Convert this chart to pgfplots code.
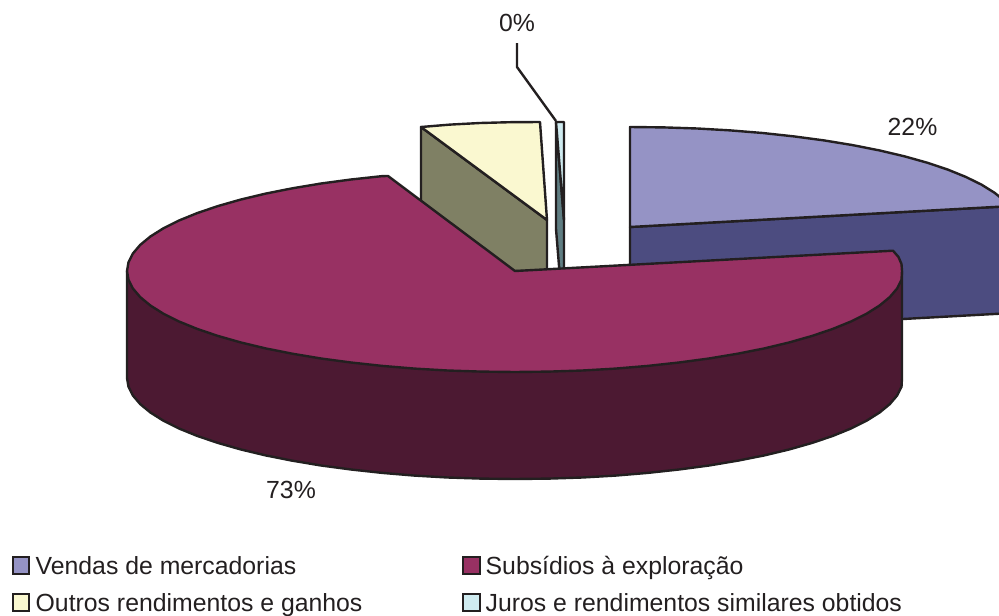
\documentclass[border=0pt]{standalone}
\usepackage{pgfplots}
\pgfplotsset{compat=1.18}
\usepackage{fontspec}
\setmainfont{Liberation Sans}
\definecolor{ink}{HTML}{231F20}
\definecolor{vendasTop}{HTML}{9593C5}
\definecolor{vendasSide}{HTML}{4C4C80}
\definecolor{subsTop}{HTML}{983163}
\definecolor{subsSide}{HTML}{4C1932}
\definecolor{outrosTop}{HTML}{FAF8D0}
\definecolor{outrosSide}{HTML}{7F8064}
\definecolor{jurosTop}{HTML}{CFEBF0}
\definecolor{jurosSide}{HTML}{5F7D82}
\begin{document}
\begin{tikzpicture}[every node/.style={text=ink,font=\fontsize{24.8}{28}\selectfont,inner sep=0pt}]
\begin{axis}[
  hide axis, scale only axis, width=999pt, height=616pt,
  xmin=0, xmax=999, ymin=0, ymax=616, y dir=reverse,
  clip=true,
  slice/.style={draw=ink, line width=2.4pt, line join=round},
]
% Vendas de mercadorias: side wall, then top face
\addplot[slice, fill=vendasSide] coordinates {(630,227)(1005,206.4)(1005,313.4)(630,334)} --cycle;
\addplot[slice, fill=vendasTop] coordinates {
  (630,227)(630,127)(663.8,127.4)(697.4,128.5)(730.4,130.4)(762.7,133)(794,136.4)
  (824,140.4)(852.6,145.1)(879.4,150.4)(904.4,156.3)(927.2,162.7)(947.8,169.6)
  (966,177)(981.6,184.7)(994.6,192.8)(1004.8,201.1)(1005,206.4)} --cycle;
% Outros rendimentos e ganhos
\addplot[slice, fill=outrosSide] coordinates {(421,127)(547,220)(547,327)(421,234)} --cycle;
\addplot[slice, fill=outrosTop] coordinates {(421,127)(450,124.6)(480,123)(510,122.2)(540,122)(547,220)} --cycle;
% Juros e rendimentos similares obtidos
\addplot[slice, fill=jurosSide] coordinates {(556,122)(564,220)(564,327)(556,229)} --cycle;
\addplot[slice, fill=jurosTop] coordinates {(556,122)(564,122)(564,220)} --cycle;
% Subsidios a exploracao: outer wall
\addplot[slice, fill=subsSide] coordinates {
  (127,271)(127,378)
  (128.5,386.8)(132.9,395.5)(140.2,404.1)(150.4,412.5)(163.4,420.7)(179,428.5)
  (197.2,435.9)(217.8,442.9)(240.6,449.4)(265.6,455.4)(292.4,460.7)(321,465.5)
  (351,469.5)(382.3,472.9)(414.6,475.6)(447.6,477.5)(481.2,478.6)(515,479)
  (548.8,478.6)(582.4,477.5)(615.4,475.6)(647.7,472.9)(679,469.5)(709,465.5)
  (737.6,460.7)(764.4,455.4)(789.4,449.4)(812.2,442.9)(832.8,435.9)(851,428.5)
  (866.6,420.7)(879.6,412.5)(889.8,404.1)(897.1,395.5)(901.5,386.8)(902,378)
  (902,271)} --cycle;
% Subsidios a exploracao: top face
\addplot[slice, fill=subsTop] coordinates {
  (515,271)(388,176)(382.3,176.1)(351,179.5)(321,183.5)(292.4,188.3)(265.6,193.6)
  (240.6,199.6)(217.8,206.1)(197.2,213.1)(179,220.5)(163.4,228.3)(150.4,236.5)
  (140.2,244.9)(132.9,253.5)(128.5,262.2)(127,271)
  (128.5,279.8)(132.9,288.5)(140.2,297.1)(150.4,305.5)(163.4,313.7)(179,321.5)
  (197.2,328.9)(217.8,335.9)(240.6,342.4)(265.6,348.4)(292.4,353.7)(321,358.5)
  (351,362.5)(382.3,365.9)(414.6,368.6)(447.6,370.5)(481.2,371.6)(515,372)
  (548.8,371.6)(582.4,370.5)(615.4,368.6)(647.7,365.9)(679,362.5)(709,358.5)
  (737.6,353.7)(764.4,348.4)(789.4,342.4)(812.2,335.9)(832.8,328.9)(851,321.5)
  (866.6,313.7)(879.6,305.5)(889.8,297.1)(897.1,288.5)(901.5,279.8)(902,271)
  (901.5,264)(898.5,257)(893,250.7)} --cycle;
% Leader of the smallest slice
\addplot[draw=ink, line width=2.4pt] coordinates {(517,43)(517,67)(556,121)};
% Legend swatches
\addplot[draw=ink, line width=2.6pt, fill=vendasTop] coordinates {(13,557)(29,557)(29,574)(13,574)} --cycle;
\addplot[draw=ink, line width=2.6pt, fill=subsTop] coordinates {(463,557)(480,557)(480,574)(463,574)} --cycle;
\addplot[draw=ink, line width=2.6pt, fill=outrosTop] coordinates {(13,594)(29,594)(29,611)(13,611)} --cycle;
\addplot[draw=ink, line width=2.6pt, fill=jurosTop] coordinates {(463,594)(480,594)(480,611)(463,611)} --cycle;
% Percentage labels
\node[anchor=base] at (axis cs:517,31) {0\%};
\node[anchor=base] at (axis cs:912.5,135) {22\%};
\node[anchor=base] at (axis cs:291,498) {73\%};
% Legend text
\node[anchor=base west] at (axis cs:35.5,574) {Vendas de mercadorias};
\node[anchor=base west] at (axis cs:485.5,574) {Subsídios à exploração};
\node[anchor=base west] at (axis cs:35.5,611) {Outros rendimentos e ganhos};
\node[anchor=base west] at (axis cs:485.5,611) {Juros e rendimentos similares obtidos};
\end{axis}
% Page area equals the full plotting rectangle
\path[use as bounding box] (current axis.south west) rectangle (current axis.north east);
\end{tikzpicture}
\end{document}
